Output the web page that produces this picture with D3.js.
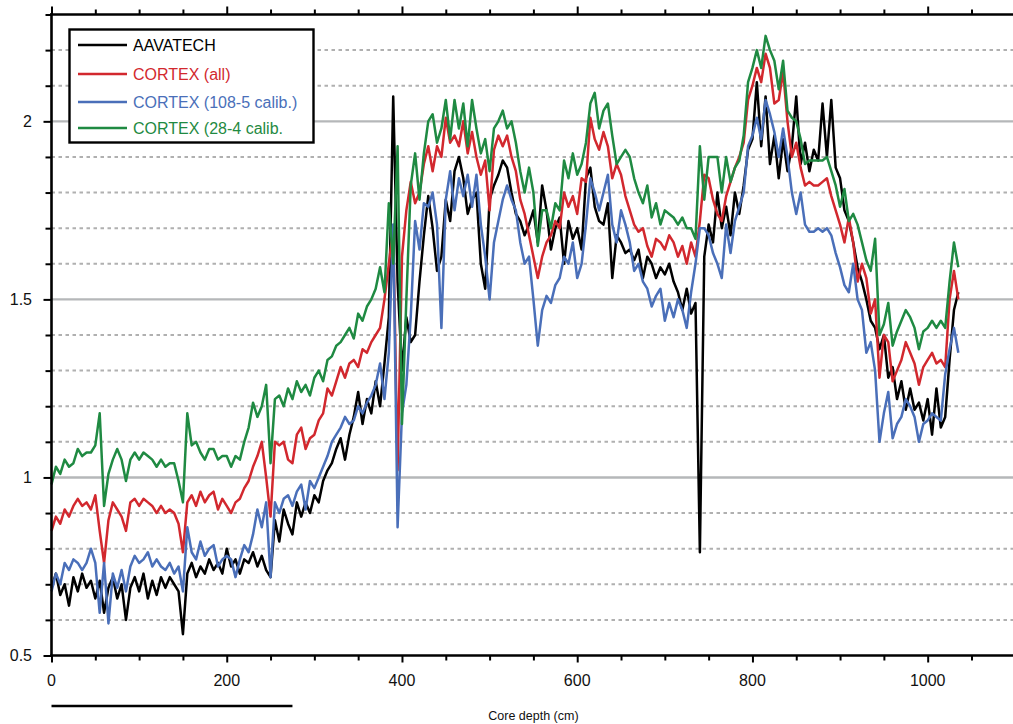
<!DOCTYPE html>
<html>
<head>
<meta charset="utf-8">
<script src="https://cdn.jsdelivr.net/npm/d3@7"></script>
<style>
  html, body { margin: 0; padding: 0; background: #fff; }
  svg { display: block; font-family: "Liberation Sans", Arial, Helvetica, sans-serif; }
</style>
</head>
<body>
<svg id="chart" width="1013" height="724"></svg>
<script>
// Sample depths (cm), one every 5 cm down the core
const depthStep = 5;
const depths = d3.range(0, 1036, depthStep);

// AAVATECH scanner record
const aavatech = [
  0.69,0.73,0.67,0.70,0.64,0.72,0.68,0.73,0.69,0.71,
  0.66,0.71,0.62,0.69,0.72,0.66,0.70,0.60,0.69,0.72,
  0.68,0.73,0.66,0.71,0.67,0.72,0.69,0.72,0.70,0.68,
  0.56,0.73,0.76,0.72,0.75,0.73,0.77,0.74,0.76,0.73,
  0.80,0.75,0.77,0.73,0.77,0.76,0.79,0.75,0.78,0.74,
  0.72,0.88,0.82,0.91,0.87,0.84,0.93,0.89,0.93,0.90,
  0.95,0.93,0.99,1.02,1.04,1.08,1.11,1.05,1.12,1.17,
  1.24,1.15,1.22,1.18,1.27,1.20,1.32,1.45,2.07,1.55,
  1.30,1.45,1.38,1.40,1.55,1.68,1.79,1.70,1.58,1.62,
  1.78,1.72,1.86,1.90,1.84,1.74,1.78,1.80,1.60,1.53,
  1.78,1.82,1.85,1.89,1.87,1.80,1.74,1.72,1.68,1.71,
  1.75,1.66,1.82,1.75,1.64,1.70,1.73,1.60,1.72,1.67,
  1.70,1.64,1.84,1.87,1.76,1.72,1.71,1.77,1.56,1.68,
  1.66,1.63,1.64,1.61,1.64,1.56,1.62,1.60,1.56,1.59,
  1.57,1.60,1.55,1.52,1.47,1.53,1.46,1.49,0.79,1.62,
  1.71,1.66,1.80,1.70,1.76,1.68,1.80,1.74,1.82,1.92,
  1.95,2.11,1.93,2.07,1.88,1.96,1.84,1.95,1.86,1.93,
  2.07,1.88,1.94,1.86,1.92,1.89,2.05,1.90,2.06,1.87,
  1.84,1.75,1.72,1.66,1.59,1.55,1.50,1.44,1.42,1.36,
  1.40,1.28,1.31,1.22,1.27,1.19,1.25,1.19,1.21,1.16,
  1.22,1.12,1.25,1.14,1.17,1.33,1.47,1.52
];

// CORTEX, all calibration samples
const cortexAll = [
  0.85,0.89,0.87,0.91,0.89,0.92,0.94,0.92,0.93,0.91,
  0.95,0.85,0.76,0.88,0.93,0.91,0.89,0.85,0.93,0.94,
  0.92,0.94,0.93,0.92,0.90,0.92,0.90,0.91,0.90,0.87,
  0.79,0.93,0.95,0.92,0.96,0.93,0.95,0.96,0.91,0.94,
  0.92,0.90,0.93,0.94,0.97,0.99,1.03,1.06,1.10,1.00,
  0.89,1.10,1.09,1.10,1.05,1.04,1.12,1.14,1.08,1.11,
  1.12,1.16,1.18,1.25,1.23,1.27,1.31,1.28,1.32,1.33,
  1.31,1.36,1.35,1.38,1.40,1.42,1.50,1.60,1.70,1.02,
  1.62,1.75,1.83,1.77,1.80,1.88,1.93,1.86,1.93,1.90,
  2.01,1.94,1.96,1.93,2.00,1.91,1.97,1.90,1.85,1.89,
  1.75,1.92,1.96,1.93,1.96,1.90,1.86,1.78,1.74,1.68,
  1.62,1.56,1.62,1.66,1.68,1.72,1.70,1.80,1.76,1.79,
  1.74,1.84,1.83,2.01,1.95,1.92,1.97,1.93,1.84,1.88,
  1.85,1.79,1.75,1.71,1.69,1.70,1.65,1.62,1.67,1.66,
  1.64,1.68,1.66,1.62,1.65,1.60,1.66,1.62,1.72,1.85,
  1.84,1.78,1.74,1.72,1.79,1.83,1.87,1.90,1.94,2.06,
  2.10,2.15,2.11,2.19,2.15,2.05,2.06,2.14,2.00,1.90,
  1.94,1.87,1.82,1.83,1.82,1.82,1.83,1.84,1.79,1.75,
  1.71,1.66,1.73,1.66,1.55,1.60,1.56,1.46,1.50,1.28,
  1.40,1.38,1.27,1.30,1.33,1.38,1.35,1.32,1.26,1.31,
  1.33,1.35,1.32,1.33,1.31,1.50,1.58,1.50
];

// CORTEX, 108-5 calibration
const cortex108 = [
  0.68,0.73,0.70,0.76,0.74,0.77,0.76,0.74,0.76,0.80,
  0.76,0.62,0.76,0.59,0.73,0.69,0.74,0.68,0.75,0.78,
  0.76,0.77,0.79,0.75,0.77,0.75,0.74,0.76,0.73,0.75,
  0.68,0.86,0.79,0.77,0.82,0.78,0.80,0.81,0.75,0.77,
  0.78,0.77,0.72,0.77,0.81,0.79,0.84,0.91,0.86,0.93,
  0.72,0.93,0.90,0.94,0.95,0.92,0.96,0.98,0.91,0.99,
  0.97,1.00,1.03,1.06,1.10,1.12,1.14,1.17,1.15,1.16,
  1.20,1.18,1.21,1.23,1.26,1.32,1.22,1.35,1.71,0.86,
  1.18,1.26,1.45,1.72,1.64,1.77,1.76,1.80,1.71,1.42,
  1.78,1.86,1.75,1.84,1.79,1.85,1.76,1.85,1.71,1.62,
  1.50,1.66,1.72,1.78,1.82,1.78,1.75,1.66,1.60,1.62,
  1.50,1.37,1.47,1.51,1.49,1.54,1.56,1.62,1.60,1.66,
  1.56,1.60,1.71,1.84,1.80,1.75,1.80,1.85,1.71,1.66,
  1.75,1.71,1.66,1.58,1.60,1.55,1.53,1.48,1.51,1.53,
  1.44,1.49,1.45,1.50,1.47,1.42,1.52,1.60,1.70,1.70,
  1.68,1.63,1.60,1.56,1.71,1.63,1.72,1.76,1.80,1.93,
  1.96,2.01,1.95,2.06,2.02,1.97,1.90,1.98,1.90,1.80,
  1.74,1.80,1.71,1.69,1.69,1.70,1.69,1.70,1.68,1.63,
  1.59,1.54,1.52,1.60,1.50,1.47,1.35,1.38,1.30,1.10,
  1.18,1.24,1.11,1.15,1.17,1.22,1.20,1.17,1.10,1.15,
  1.16,1.18,1.17,1.16,1.29,1.36,1.42,1.35
];

// CORTEX, 28-4 calibration
const cortex28 = [
  0.98,1.03,1.01,1.05,1.03,1.04,1.08,1.06,1.07,1.07,
  1.09,1.18,0.92,1.01,1.05,1.08,1.05,0.99,1.05,1.07,
  1.05,1.07,1.06,1.05,1.03,1.05,1.03,1.04,1.04,0.99,
  0.93,1.18,1.09,1.10,1.07,1.05,1.08,1.08,1.05,1.06,
  1.06,1.03,1.06,1.05,1.10,1.14,1.21,1.17,1.20,1.26,
  1.04,1.22,1.23,1.20,1.25,1.22,1.27,1.24,1.26,1.23,
  1.28,1.30,1.27,1.33,1.34,1.37,1.38,1.40,1.42,1.39,
  1.46,1.44,1.48,1.50,1.53,1.59,1.52,1.77,1.60,1.93,
  1.15,1.50,1.82,1.91,1.78,1.91,2.00,2.02,1.94,1.98,
  2.06,1.95,2.06,1.98,2.05,1.93,2.06,1.98,1.91,1.95,
  1.86,1.98,2.00,2.03,1.98,2.00,1.94,1.86,1.80,1.87,
  1.80,1.65,1.75,1.75,1.70,1.77,1.75,1.89,1.84,1.91,
  1.85,1.88,1.94,2.05,2.08,1.98,2.03,2.05,1.96,1.88,
  1.90,1.92,1.90,1.84,1.80,1.77,1.82,1.73,1.77,1.71,
  1.75,1.74,1.73,1.71,1.73,1.70,1.70,1.67,1.93,1.78,
  1.90,1.90,1.90,1.80,1.90,1.83,1.87,1.89,1.96,2.11,
  2.15,2.20,2.15,2.24,2.20,2.17,2.09,2.17,2.03,2.01,
  2.00,1.95,1.88,1.89,1.89,1.89,1.89,1.90,1.86,1.82,
  1.76,1.81,1.72,1.74,1.71,1.66,1.61,1.58,1.67,1.40,
  1.43,1.49,1.37,1.41,1.44,1.47,1.45,1.42,1.36,1.41,
  1.42,1.44,1.42,1.44,1.42,1.55,1.66,1.59
];

const seriesNames = ["AAVATECH", "CORTEX (all)", "CORTEX (108-5 calib.)", "CORTEX (28-4 calib."];
const seriesValues = [aavatech, cortexAll, cortex108, cortex28];
const seriesColors = ["#000000", "#d2282e", "#4a6fb9", "#1f8a42"];

const xTickLabels = [0, 200, 400, 600, 800, 1000];
const yTickLabels = [0.5, 1, 1.5, 2];
const xAxisTitle = "Core depth (cm)";

(function draw() {
  const svg = d3.select("#chart");
  const plotLeft = 51.5, plotRight = 1015.3, plotTop = 14.5, plotBottom = 655.5;

  const x = d3.scaleLinear().domain([0, 1100]).range([plotLeft, plotRight]);
  const y = d3.scaleLinear().domain([0.5, 2.3]).range([plotBottom, plotTop]);

  const gridVals = d3.range(6, 23).map(v => v / 10);
  const isMajorY = v => yTickLabels.some(t => Math.abs(t - v) < 1e-6);

  // Horizontal grid: solid at labelled values, dotted elsewhere
  svg.append("g").selectAll("line")
    .data(gridVals)
    .join("line")
    .attr("x1", plotLeft).attr("x2", 1013)
    .attr("y1", d => y(d)).attr("y2", d => y(d))
    .attr("stroke", d => isMajorY(d) ? "#b5b7b9" : "#b0b0b0")
    .attr("stroke-width", d => isMajorY(d) ? 2.4 : 2)
    .attr("stroke-dasharray", d => isMajorY(d) ? null : "3.5,3.5");

  // Data lines
  const line = d3.line()
    .x((d, i) => x(depths[i]))
    .y(d => y(d));

  const plot = svg.append("g");
  seriesValues.forEach((vals, k) => {
    plot.append("path")
      .datum(vals)
      .attr("d", line)
      .attr("fill", "none")
      .attr("stroke", seriesColors[k])
      .attr("stroke-width", 2.5)
      .attr("stroke-linejoin", "round");
  });

  // Axes
  const xTicks = d3.range(0, 1101, 50);
  const isMajorX = v => v % 200 === 0;

  const gBottom = svg.append("g")
    .attr("transform", `translate(0,${plotBottom})`)
    .call(d3.axisBottom(x).tickValues(xTicks).tickSize(0).tickFormat(""));
  gBottom.select(".domain").remove();
  gBottom.selectAll(".tick line")
    .attr("y2", d => isMajorX(d) ? 7 : 5)
    .attr("stroke", "#000").attr("stroke-width", 2);
  gBottom.append("line")
    .attr("x1", plotLeft - 1.3).attr("x2", 1013)
    .attr("stroke", "#000").attr("stroke-width", 2.6);

  svg.append("g").selectAll("text")
    .data(xTickLabels)
    .join("text")
    .attr("x", d => x(d))
    .attr("y", 686)
    .attr("text-anchor", "middle")
    .attr("font-size", 16)
    .attr("fill", "#111")
    .text(d => d);

  const gTop = svg.append("g")
    .attr("transform", `translate(0,${plotTop})`)
    .call(d3.axisTop(x).tickValues(xTicks).tickSize(0).tickFormat(""));
  gTop.select(".domain").remove();
  gTop.selectAll(".tick line")
    .attr("y2", d => isMajorX(d) ? -8 : -5)
    .attr("stroke", "#000").attr("stroke-width", 2);
  gTop.append("line")
    .attr("x1", plotLeft - 1.3).attr("x2", 1013)
    .attr("stroke", "#000").attr("stroke-width", 2.6);

  const yTicks = d3.range(5, 24).map(v => v / 10);
  const gLeft = svg.append("g")
    .attr("transform", `translate(${plotLeft},0)`)
    .call(d3.axisLeft(y).tickValues(yTicks).tickSize(0).tickFormat(""));
  gLeft.select(".domain").remove();
  gLeft.selectAll(".tick line")
    .attr("x2", d => isMajorY(d) ? -8 : -6)
    .attr("stroke", "#000").attr("stroke-width", 2);
  gLeft.append("line")
    .attr("y1", plotTop - 1.3).attr("y2", plotBottom + 1.3)
    .attr("stroke", "#000").attr("stroke-width", 2.6);

  svg.append("g").selectAll("text")
    .data(yTickLabels)
    .join("text")
    .attr("x", 32)
    .attr("y", d => y(d))
    .attr("dy", "0.36em")
    .attr("text-anchor", "end")
    .attr("font-size", 16)
    .attr("fill", "#111")
    .text(d => d);

  // Axis title and the rule under the first part of the axis
  svg.append("text")
    .attr("x", (plotLeft + plotRight) / 2)
    .attr("y", 720)
    .attr("text-anchor", "middle")
    .attr("font-size", 12.5)
    .attr("fill", "#111")
    .text(xAxisTitle);

  svg.append("line")
    .attr("x1", x(0)).attr("x2", x(275))
    .attr("y1", 706).attr("y2", 706)
    .attr("stroke", "#000").attr("stroke-width", 2.4);

  // Legend
  const legend = svg.append("g");
  legend.append("rect")
    .attr("x", 69.5).attr("y", 29.5)
    .attr("width", 244).attr("height", 113)
    .attr("fill", "#fff")
    .attr("stroke", "#000").attr("stroke-width", 2.4);

  const legendRowsY = [45, 74, 102, 128];
  seriesNames.forEach((name, k) => {
    const ly = legendRowsY[k];
    legend.append("line")
      .attr("x1", 78).attr("x2", 127)
      .attr("y1", ly).attr("y2", ly)
      .attr("stroke", seriesColors[k]).attr("stroke-width", 2.4);
    legend.append("text")
      .attr("x", 133).attr("y", ly)
      .attr("dy", "0.36em")
      .attr("font-size", 16)
      .attr("fill", seriesColors[k])
      .text(name);
  });
})();
</script>
</body>
</html>
